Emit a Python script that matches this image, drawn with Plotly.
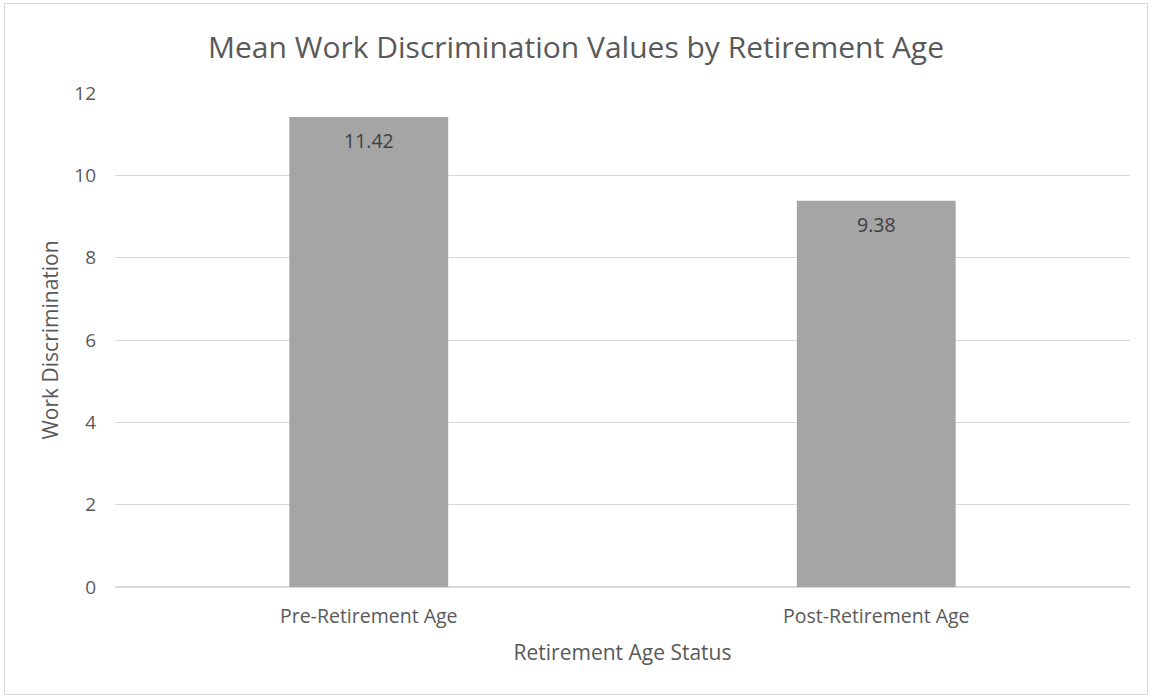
import plotly.graph_objects as go

categories = ["Pre-Retirement Age", "Post-Retirement Age"]
values = [11.42, 9.38]
labels = ["11.42", "9.38"]

FONT = "'Open Sans', sans-serif"
W, H = 1152, 696
L, R, T, B = 115, 22, 93, 109
pw = W - L - R
ph = H - T - B

fig = go.Figure(go.Bar(
    x=categories, y=values, marker_color="#A5A5A5", marker_line_width=0,
    hoverinfo="skip",
))
for c, v, t in zip(categories, values, labels):
    fig.add_annotation(x=c, y=v, text=t, showarrow=False, yanchor="top", yshift=-8,
                       font=dict(family=FONT, size=19.5, color="#404040"))

fig.update_layout(
    width=W, height=H,
    margin=dict(l=L, r=R, t=T, b=B),
    paper_bgcolor="white", plot_bgcolor="white",
    bargap=0.687,
    showlegend=False,
    title=dict(text="Mean Work Discrimination Values by Retirement Age",
               x=0.5, xref="container", xanchor="center",
               y=1 - 47 / H, yref="container", yanchor="middle",
               font=dict(family=FONT, size=30, color="#595959")),
    font=dict(family=FONT, color="#595959"),
)
fig.update_yaxes(range=[0, 12], dtick=2, showgrid=True, gridcolor="#D9D9D9", gridwidth=1,
                 zeroline=True, zerolinecolor="#D9D9D9", showline=False, ticks="",
                 ticklabelstandoff=18,
                 tickfont=dict(family=FONT, size=19, color="#595959"),
                 title=dict(text="Work Discrimination", standoff=9,
                            font=dict(family=FONT, size=21, color="#595959")))
fig.update_xaxes(showgrid=False, showline=False, ticks="",
                 ticklabelstandoff=15,
                 tickfont=dict(family=FONT, size=19.5, color="#595959"),
                 title=dict(text="Retirement Age Status", standoff=17,
                            font=dict(family=FONT, size=21, color="#595959")))

# outer chart border
fig.add_shape(type="rect", xref="paper", yref="paper",
              x0=(4.5 - L) / pw, x1=(1147.5 - L) / pw,
              y0=(H - B - 694.5) / ph, y1=(H - B - 3.5) / ph,
              line=dict(color="#D9D9D9", width=1), fillcolor="rgba(0,0,0,0)", layer="below")

fig.write_html("out.html", config={"displayModeBar": False},
               post_script="document.body.style.margin='0';")
